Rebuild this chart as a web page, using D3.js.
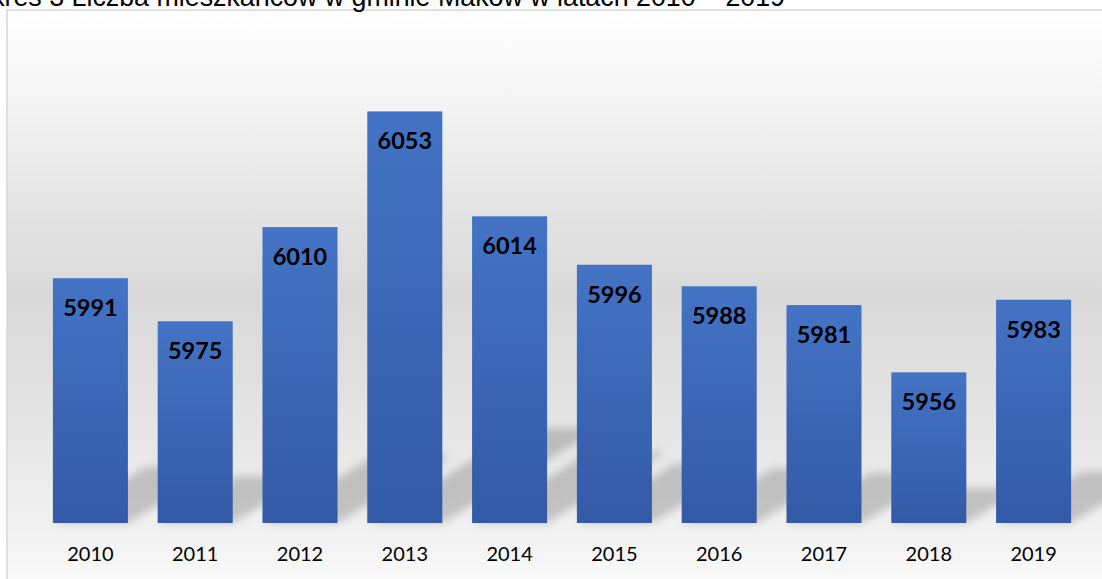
<!DOCTYPE html>
<html>

<head>
    <meta charset="utf-8">
    <style>
        body {
            margin: 0;
            background: #fff;
            overflow: hidden;
        }

        svg {
            display: block;
        }

        .title {
            font-family: 'Liberation Sans', Arial, sans-serif;
            font-size: 26.8px;
            fill: #000;
        }

        .x .domain,
        .x .tick line {
            display: none;
        }

        .x .tick text {
            font-family: Lato, 'Noto Sans', sans-serif;
            font-size: 20px;
            fill: #000;
        }

        .value-label {
            font-family: Lato, 'Noto Sans', sans-serif;
            font-size: 23.5px;
            font-weight: 700;
            fill: #000;
        }
    </style>
</head>

<body>
    <svg width="1102" height="579"></svg>

    <script src="https://d3js.org/d3.v7.min.js"></script>
    <script>
        // data
        const years = ["2010", "2011", "2012", "2013", "2014", "2015", "2016", "2017", "2018", "2019"];
        const residents = [5991, 5975, 6010, 6053, 6014, 5996, 5988, 5981, 5956, 5983];
        const titleText = "Wykres 3 Liczba mieszkańców w gminie Maków w latach 2010 – 2019";

        const width = 1102;
        const height = 579;
        const base = 523; // bottom of the bars

        const svg = d3.select("svg");
        const defs = svg.append("defs");

        // background of the plot: white -> grey -> white
        const bg = defs.append("linearGradient")
            .attr("id", "bg")
            .attr("x1", 0).attr("y1", 0).attr("x2", 0).attr("y2", 1);
        [[0, "#ffffff"], [0.15, "#f4f4f4"], [0.35, "#e2e2e2"], [0.48, "#d9d9d9"],
         [0.62, "#e0e0e0"], [0.8, "#ececec"], [0.92, "#f6f6f6"], [1, "#fcfcfc"]]
            .forEach(s => bg.append("stop").attr("offset", s[0]).attr("stop-color", s[1]));

        const barGrad = defs.append("linearGradient")
            .attr("id", "bar")
            .attr("x1", 0).attr("y1", 0).attr("x2", 0).attr("y2", 1);
        barGrad.append("stop").attr("offset", 0).attr("stop-color", "#4473c5");
        barGrad.append("stop").attr("offset", 1).attr("stop-color", "#335aa6");

        defs.append("filter")
            .attr("id", "blur")
            .attr("x", "-30%").attr("y", "-30%").attr("width", "160%").attr("height", "160%")
            .append("feGaussianBlur")
            .attr("stdDeviation", 4);

        // chart frame
        svg.append("rect")
            .attr("x", 7)
            .attr("y", 10)
            .attr("width", width + 20)
            .attr("height", height + 20)
            .attr("fill", "url(#bg)")
            .attr("stroke", "#d6d6d6")
            .attr("stroke-width", 1.5);

        // title, cut off at the top like the source
        svg.append("text")
            .attr("class", "title")
            .attr("x", 785)
            .attr("y", 6)
            .attr("text-anchor", "end")
            .text(titleText);

        const x = d3.scaleBand()
            .domain(years)
            .range([38, 1086])
            .paddingInner(0.284)
            .paddingOuter(0.142);

        const y = d3.scaleLinear()
            .domain([5900, 6060])
            .range([base, 92.6]);

        const data = years.map((yr, i) => ({ year: yr, value: residents[i] }));

        // perspective shadows behind the bars
        svg.append("g")
            .attr("class", "shadows")
            .attr("filter", "url(#blur)")
            .selectAll("path")
            .data(data)
            .join("path")
            .attr("fill", "#000")
            .attr("fill-opacity", 0.19)
            .attr("d", d => {
                const h = base - y(d.value);
                const dy = h * 0.23;
                const dx = h * 0.385;
                const x0 = x(d.year);
                const x1 = x0 + x.bandwidth();
                return `M${x0},${base}L${x1},${base}L${x1 + dx},${base - dy}L${x0 + dx},${base - dy}Z`;
            });

        svg.append("g")
            .attr("class", "bars")
            .selectAll("rect")
            .data(data)
            .join("rect")
            .attr("x", d => x(d.year))
            .attr("y", d => y(d.value))
            .attr("width", x.bandwidth())
            .attr("height", d => base - y(d.value))
            .attr("fill", "url(#bar)");

        svg.append("g")
            .attr("class", "labels")
            .selectAll("text")
            .data(data)
            .join("text")
            .attr("class", "value-label")
            .attr("x", d => x(d.year) + x.bandwidth() / 2)
            .attr("y", d => y(d.value) + 38)
            .attr("text-anchor", "middle")
            .text(d => d.value);

        svg.append("g")
            .attr("class", "x axis")
            .attr("transform", `translate(0,${base})`)
            .call(d3.axisBottom(x).tickSize(0).tickPadding(0))
            .call(g => g.selectAll(".tick text").attr("dy", null).attr("y", 38));
    </script>
</body>

</html>
